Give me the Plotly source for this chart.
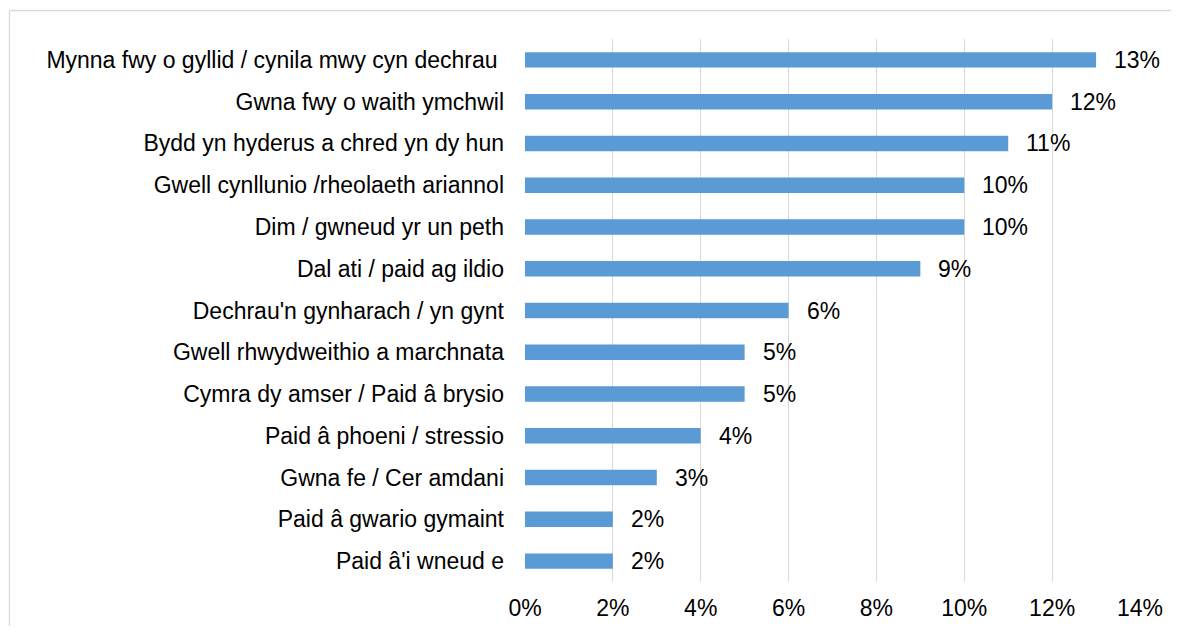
import plotly.graph_objects as go

categories = [
    "Mynna fwy o gyllid / cynila mwy cyn dechrau\u00a0",
    "Gwna fwy o waith ymchwil",
    "Bydd yn hyderus a chred yn dy hun",
    "Gwell cynllunio /rheolaeth ariannol",
    "Dim / gwneud yr un peth",
    "Dal ati / paid ag ildio",
    "Dechrau'n gynharach / yn gynt",
    "Gwell rhwydweithio a marchnata",
    "Cymra dy amser / Paid â brysio",
    "Paid â phoeni / stressio",
    "Gwna fe / Cer amdani",
    "Paid â gwario gymaint",
    "Paid â'i wneud e",
]
values = [0.13, 0.12, 0.11, 0.10, 0.10, 0.09, 0.06, 0.05, 0.05, 0.04, 0.03, 0.02, 0.02]
tick_vals = [0, 0.02, 0.04, 0.06, 0.08, 0.10, 0.12, 0.14]
tick_text = ["0%", "2%", "4%", "6%", "8%", "10%", "12%", "14%"]

W, H = 1171, 618
L, R, T, B = 517, 39, 31, 44
FONT = dict(family="Liberation Sans, Arial, sans-serif", size=23, color="#000000")

fig = go.Figure()
fig.add_trace(go.Bar(
    x=values, y=categories, orientation="h",
    marker=dict(color="#5B9BD5", line=dict(width=0)),
    width=0.37, hoverinfo="skip",
))

for c, v in zip(categories, values):
    fig.add_annotation(x=v, y=c, text=f"{round(v*100)}%", showarrow=False,
                       xanchor="left", yanchor="middle", xshift=16,
                       font=FONT)

pw = W - L - R
ph = H - T - B
fx0 = (1.5 - L) / pw
fx1 = (1300 - L) / pw
fy_top = (H - 2.5 - B) / ph
fy_bot = -(700 - T - ph) / ph
frame = dict(color="#D9D9D9", width=1.3)
fig.add_shape(type="line", xref="paper", yref="paper",
              x0=fx0, x1=fx1, y0=fy_top, y1=fy_top, line=frame, layer="below")
fig.add_shape(type="line", xref="paper", yref="paper",
              x0=fx0, x1=fx0, y0=fy_top, y1=fy_bot, line=frame, layer="below")

fig.update_layout(
    width=W, height=H,
    margin=dict(l=L, r=R, t=T, b=B, autoexpand=False),
    paper_bgcolor="white", plot_bgcolor="white",
    showlegend=False, font=FONT,
    xaxis=dict(range=[0, 0.14], tickvals=tick_vals, ticktext=tick_text,
               showgrid=True, gridcolor="#D9D9D9", gridwidth=1.3,
               zeroline=False, showline=False, ticks="",
               ticklabelstandoff=10, tickfont=FONT),
    yaxis=dict(autorange="reversed", showgrid=False, zeroline=False,
               showline=False, ticks="", ticklabelstandoff=20, tickfont=FONT),
    bargap=0.63,
)

fig.write_html("out.html")
